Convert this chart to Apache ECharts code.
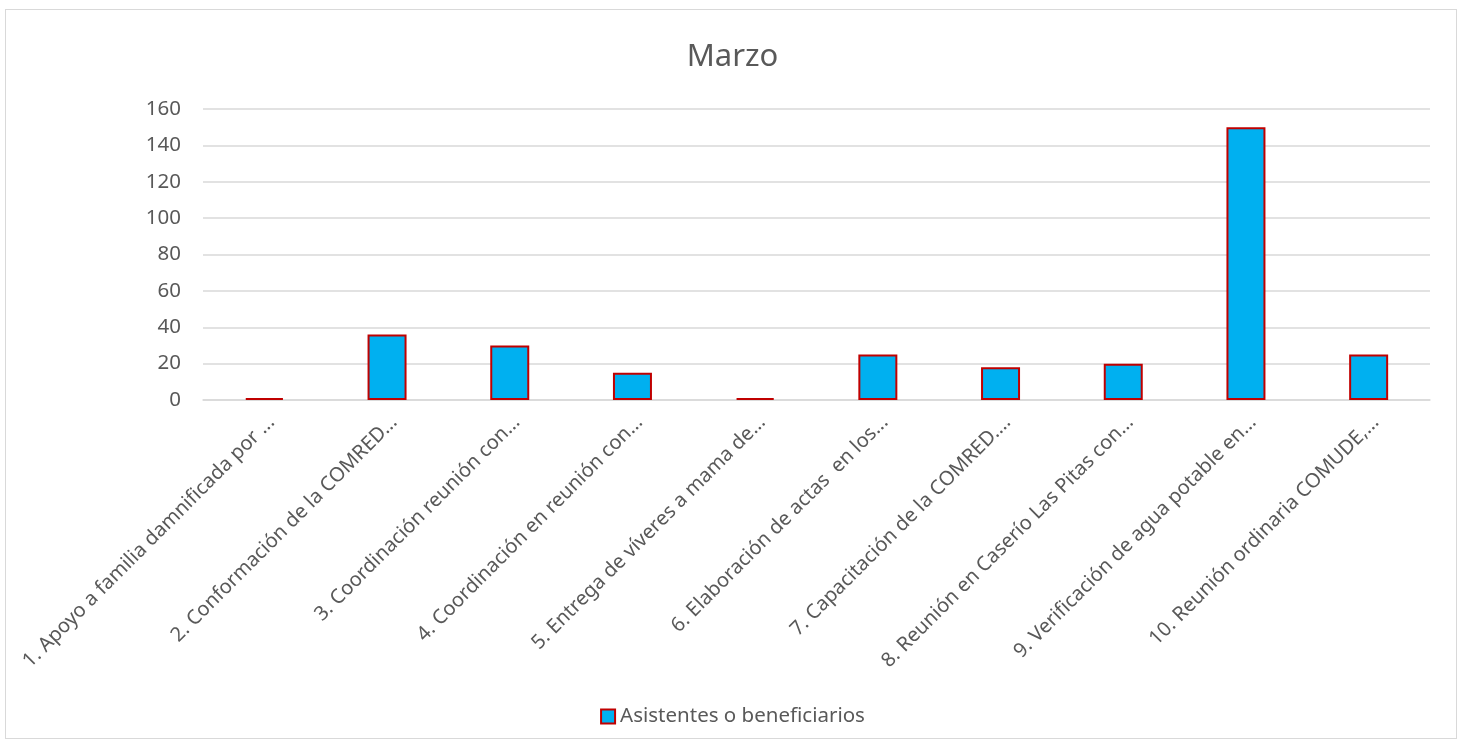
<!DOCTYPE html>
<html><head><meta charset="utf-8">
<script src="https://cdn.jsdelivr.net/npm/echarts@6/dist/echarts.min.js"></script>
<style>
html,body{margin:0;padding:0;background:#fff;}
#frame{position:absolute;left:5px;top:9px;width:1452px;height:730px;border:1px solid #d9d9d9;box-sizing:border-box;}
#c{position:absolute;left:0;top:0;width:1465px;height:748px;}
</style></head>
<body><div id="frame"></div><div id="c"></div>
<script>
const title = "Marzo";
const seriesName = "Asistentes o beneficiarios";
const categories = [
  "1. Apoyo a familia damnificada por ...",
  "2. Conformación de la COMRED...",
  "3. Coordinación reunión con...",
  "4. Coordinación en reunión con...",
  "5. Entrega de víveres a mama de...",
  "6. Elaboración de actas  en los...",
  "7. Capacitación de la COMRED....",
  "8. Reunión en Caserío Las Pitas con...",
  "9. Verificación de agua potable en...",
  "10. Reunión ordinaria COMUDE,..."
];
const values = [1, 36, 30, 15, 1, 25, 18, 20, 150, 25];
const yTicks = {min: 0, max: 160, interval: 20};

const chart = echarts.init(document.getElementById('c'));
const textColor = '#595959';
const font = 'Noto Sans';
chart.setOption({
  animation: false,
  backgroundColor: 'transparent',
  title: {text: title, left: 'center', top: 37, textStyle: {fontFamily: font, fontSize: 31, fontWeight: 'normal', color: textColor}},
  grid: {left: 203, right: 35, top: 109, bottom: 348, containLabel: false},
  legend: {
    bottom: 16, left: 'center', itemWidth: 14, itemHeight: 14, itemGap: 6,
    textStyle: {fontFamily: font, fontSize: 20.5, color: textColor},
    data: [{name: seriesName, icon: 'rect'}]
  },
  xAxis: {
    type: 'category', data: categories,
    axisLine: {lineStyle: {color: '#d9d9d9', width: 1.5}},
    axisTick: {show: false},
    axisLabel: {rotate: 45, interval: 0, fontFamily: font, fontSize: 20, color: textColor, margin: 12, verticalAlign: 'top'}
  },
  yAxis: {
    type: 'value', min: yTicks.min, max: yTicks.max, interval: yTicks.interval,
    axisLine: {show: false}, axisTick: {show: false},
    axisLabel: {fontFamily: font, fontSize: 20.5, color: textColor, margin: 22},
    splitLine: {lineStyle: {color: '#d9d9d9', width: 1.5}}
  },
  series: [{
    name: seriesName, type: 'bar', data: values, barWidth: 39,
    itemStyle: {color: '#00B0F0', borderColor: '#C00000', borderWidth: 2}
  }]
});
</script></body></html>
